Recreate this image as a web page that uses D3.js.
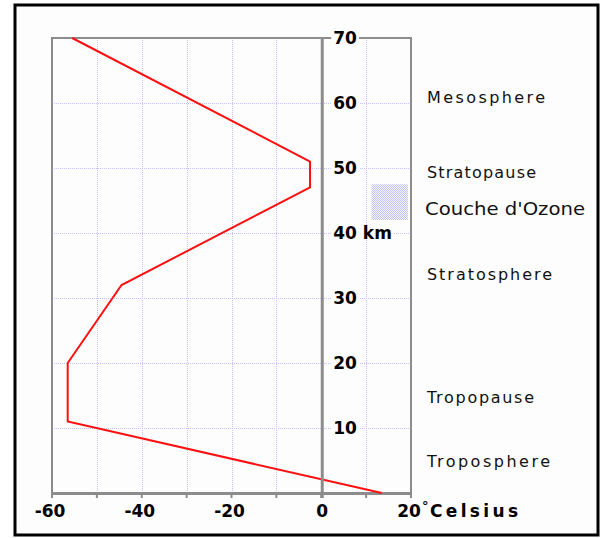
<!DOCTYPE html>
<html><head><meta charset="utf-8">
<script src="https://cdn.jsdelivr.net/npm/d3@7"></script>
<style>html,body{margin:0;padding:0;background:#fff;}svg{display:block;}</style>
</head><body>
<script>
// ---- data ----
const temps = [13.5, -56.5, -56.5, -44.5, -2.5, -2.5, -55.5];
const alts  = [0, 11, 20, 32, 47, 51, 70];
const xTicks = [-60, -40, -20, 0, 20];
const xMinor = [-60, -50, -40, -30, -20, -10, 0, 10, 20];
const yTicks = [10, 20, 30, 40, 50, 60, 70];
const layerNames = ["Mesosphere", "Stratopause", "Stratosphere", "Tropopause", "Troposphere"];
const layerAlts  = [60.8, 49.2, 33.5, 14.6, 4.8];
const ozoneTemps = [11.2, 19.3];
const ozoneAlts  = [42, 47.5];
const ozoneLabel = "Couche d'Ozone";

const W = 604, H = 538;
const svg = d3.select("body").append("svg").attr("width", W).attr("height", H);

const x = d3.scaleLinear().domain([-60, 20]).range([52, 411]);
const y = d3.scaleLinear().domain([0, 70]).range([493, 38]);

// outer frame
svg.append("rect").attr("x", 15).attr("y", 5).attr("width", 583).attr("height", 530)
  .attr("fill", "#fdfdfd").attr("stroke", "#000").attr("stroke-width", 3);

// pattern for ozone
const defs = svg.append("defs");
const pat = defs.append("pattern").attr("id", "oz").attr("patternUnits", "userSpaceOnUse")
  .attr("width", 2).attr("height", 2);
pat.append("rect").attr("width", 2).attr("height", 2).attr("fill", "#f6f6ff");
pat.append("rect").attr("x", 0).attr("y", 0).attr("width", 1).attr("height", 1).attr("fill", "#c0c0fa");
pat.append("rect").attr("x", 1).attr("y", 1).attr("width", 1).attr("height", 1).attr("fill", "#c0c0fa");

// grid
const gridColor = "#c2c2ff";
svg.append("g").selectAll("line").data(xMinor.filter(v => v !== -60 && v !== 0 && v !== 20)).join("line")
  .attr("x1", d => Math.round(x(d)) + 0.5).attr("x2", d => Math.round(x(d)) + 0.5)
  .attr("y1", y(70)).attr("y2", y(0))
  .attr("stroke", gridColor).attr("stroke-dasharray", "1,1");
svg.append("g").selectAll("line").data(yTicks.filter(v => v !== 70)).join("line")
  .attr("x1", x(-60)).attr("x2", x(20))
  .attr("y1", d => Math.round(y(d)) + 0.5).attr("y2", d => Math.round(y(d)) + 0.5)
  .attr("stroke", gridColor).attr("stroke-dasharray", "1,1");

// ozone box
svg.append("rect")
  .attr("x", x(ozoneTemps[0])).attr("y", y(ozoneAlts[1]))
  .attr("width", x(ozoneTemps[1]) - x(ozoneTemps[0]))
  .attr("height", y(ozoneAlts[0]) - y(ozoneAlts[1]))
  .attr("fill", "url(#oz)");

// plot border
const axisColor = "#8c8c8c";
svg.append("line").attr("x1", x(-60)).attr("x2", x(-60)).attr("y1", y(70) - 1).attr("y2", y(0) + 4)
  .attr("stroke", axisColor).attr("stroke-width", 2);
svg.append("line").attr("x1", x(20)).attr("x2", x(20)).attr("y1", y(70) - 1).attr("y2", y(0) + 4)
  .attr("stroke", axisColor).attr("stroke-width", 2);
svg.append("line").attr("x1", x(-60)).attr("x2", x(20)).attr("y1", y(70)).attr("y2", y(70))
  .attr("stroke", axisColor).attr("stroke-width", 2);
svg.append("line").attr("x1", x(-60) - 1).attr("x2", x(20) + 1).attr("y1", y(0) + 0.5).attr("y2", y(0) + 0.5)
  .attr("stroke", axisColor).attr("stroke-width", 3);
// bottom ticks
svg.append("g").selectAll("line").data(xMinor).join("line")
  .attr("x1", d => x(d)).attr("x2", d => x(d)).attr("y1", y(0)).attr("y2", y(0) + 5)
  .attr("stroke", axisColor).attr("stroke-width", 2);

// red temperature line
const line = d3.line().x((d, i) => x(temps[i])).y((d, i) => y(alts[i]));
svg.append("path").datum(alts).attr("d", line)
  .attr("fill", "none").attr("stroke", "#ff1010").attr("stroke-width", 2).attr("stroke-linejoin", "miter");

// zero axis
svg.append("line").attr("x1", x(0) + 1).attr("x2", x(0) + 1).attr("y1", y(70) - 1).attr("y2", y(0) + 5)
  .attr("stroke", axisColor).attr("stroke-width", 3);

// y labels with white background
const yl = svg.append("g").style("font-family", "DejaVu Sans").style("font-weight", "bold")
  .style("font-size", "17px").attr("fill", "#000");
yTicks.forEach(v => {
  const t = yl.append("text").attr("x", x(0) + 12).attr("y", y(v) + 6)
    .text(v === 40 ? "40 km" : String(v));
  const bb = t.node().getBBox();
  yl.insert("rect", "text").attr("x", bb.x - 2).attr("y", y(v) - 3).attr("width", bb.width + 4).attr("height", 6)
    .attr("fill", "#fdfdfd");
});

// x labels
const xl = svg.append("g").style("font-family", "DejaVu Sans").style("font-weight", "bold")
  .style("font-size", "17px").attr("fill", "#000");
xl.selectAll("text").data(xTicks).join("text")
  .attr("x", d => x(d) - (d === 0 ? -1 : 2)).attr("y", 517).attr("text-anchor", "middle")
  .text(d => String(d));
xl.append("text").attr("x", 422).attr("y", 510).style("font-size", "13px").text("°");
xl.append("text").attr("x", 430).attr("y", 517).attr("textLength", 88).attr("lengthAdjust", "spacing").text("Celsius");

// layer labels
const ll = svg.append("g").style("font-family", "DejaVu Sans").style("font-size", "16px")
  .style("font-weight", "500").attr("fill", "#111");
const layerWidths = [118, 109, 125, 107, 123];
layerNames.forEach((n, i) => {
  ll.append("text").attr("x", 427).attr("y", y(layerAlts[i]) + 5)
    .attr("textLength", layerWidths[i]).attr("lengthAdjust", "spacing").text(n);
});
svg.append("text").attr("x", 425).attr("y", 215)
  .style("font-family", "DejaVu Sans").style("font-size", "18px").attr("fill", "#111")
  .attr("textLength", 160).attr("lengthAdjust", "spacingAndGlyphs").text(ozoneLabel);
</script>
</body></html>
